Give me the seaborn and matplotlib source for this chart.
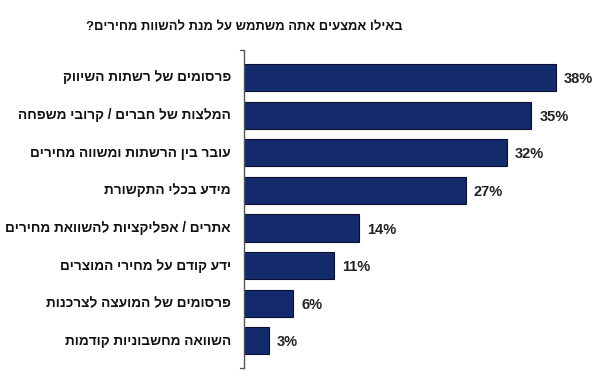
import matplotlib
matplotlib.use("Agg")
import matplotlib.pyplot as plt
import seaborn as sns
import pandas as pd

title = "באילו אמצעים אתה משתמש על מנת להשוות מחירים?"
categories = [
    "פרסומים של רשתות השיווק",
    "המלצות של חברים / קרובי משפחה",
    "עובר בין הרשתות ומשווה מחירים",
    "מידע בכלי התקשורת",
    "אתרים / אפליקציות להשוואת מחירים",
    "ידע קודם על מחירי המוצרים",
    "פרסומים של המועצה לצרכנות",
    "השוואה מחשבוניות קודמות",
]
values = [38, 35, 32, 27, 14, 11, 6, 3]


def vis(s):
    # matplotlib has no bidi support: reverse to visual order
    return s[::-1]


sns.set_theme(style="white")
plt.rcParams["font.family"] = ["Liberation Sans", "DejaVu Sans"]

df = pd.DataFrame({"label": [vis(c) for c in categories], "value": values})

fig = plt.figure(figsize=(6.0, 3.86), dpi=100)
ax = fig.add_axes([244 / 600, 18 / 386, 348 / 600, 318 / 386])

sns.barplot(data=df, x="value", y="label", orient="h", color="#132a6c",
            saturation=1, width=0.72, edgecolor="#0b1030", linewidth=0.8, ax=ax)

ax.set_xlim(0, 42.4)
ax.set_ylim(7.72, -0.73)
ax.set_xlabel("")
ax.set_ylabel("")
ax.set_xticks([])
ax.set_yticks([])

for i, v in enumerate(values):
    ax.text(v + 1.0, i + 0.04, f"{v}%", va="center", ha="left",
            fontsize=10.5, fontweight="bold", color="#222222")
    ax.text(-1.6, i, vis(categories[i]), va="center", ha="right",
            fontsize=9.8, fontweight="bold", color="#111111")

for s in ["top", "right", "bottom"]:
    ax.spines[s].set_visible(False)
ax.spines["left"].set_color("#555555")
ax.spines["left"].set_linewidth(1.0)
# end ticks at top and bottom of the axis
ax.plot([-0.5, 0], [-0.73, -0.73], color="#555555", lw=1.0, clip_on=False)
ax.plot([-0.5, 0], [7.72, 7.72], color="#555555", lw=1.0, clip_on=False)

fig.text(244 / 600, 1 - 27 / 386, vis(title), ha="center", va="center",
         fontsize=9.4, fontweight="bold", color="#111111")

fig.savefig("out.png", dpi=100)
